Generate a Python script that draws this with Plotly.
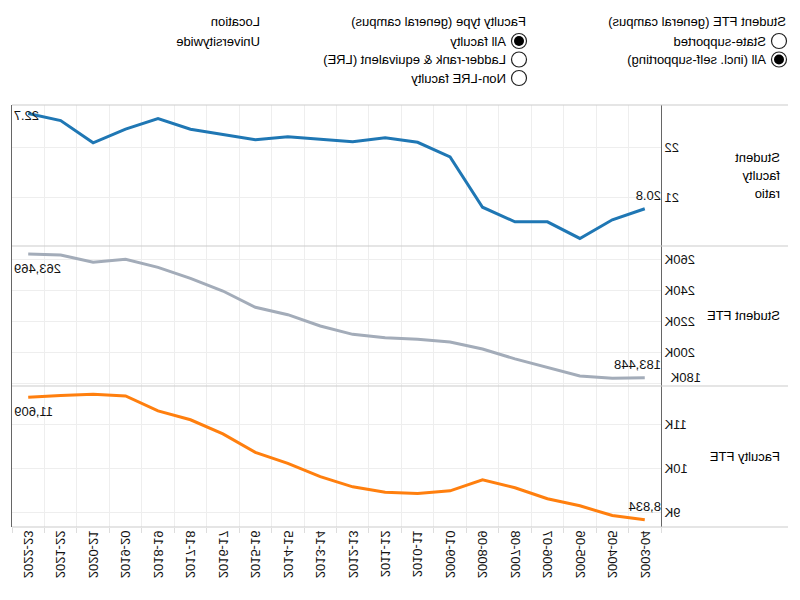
import plotly.graph_objects as go
from plotly.subplots import make_subplots

# ---------------- data ----------------
years = ["2003-04", "2004-05", "2005-06", "2006-07", "2007-08", "2008-09", "2009-10",
         "2010-11", "2011-12", "2012-13", "2013-14", "2014-15", "2015-16", "2016-17",
         "2017-18", "2018-19", "2019-20", "2020-21", "2021-22", "2022-23"]
student_faculty_ratio = [20.78, 20.56, 20.19, 20.52, 20.52, 20.81, 21.81, 22.10, 22.19, 22.11,
                         22.16, 22.21, 22.15, 22.26, 22.36, 22.57, 22.36, 22.09, 22.53, 22.67]
student_fte = [183448, 183100, 184600, 190200, 195600, 202000, 206600, 208300, 209300, 211500,
               216900, 224200, 229000, 239500, 247700, 254800, 260000, 258100, 262800, 263469]
faculty_fte = [8834, 8930, 9150, 9310, 9560, 9740, 9490, 9430, 9460, 9580,
               9810, 10110, 10360, 10780, 11100, 11300, 11640, 11680, 11650, 11609]

ratio_tickvals = [21, 22]
ratio_ticktext = ["21", "22"]
student_tickvals = [180000, 200000, 220000, 240000, 260000]
student_ticktext = ["180K", "200K", "220K", "240K", "260K"]
faculty_tickvals = [9000, 10000, 11000]
faculty_ticktext = ["9K", "10K", "11K"]

panel_titles = [["Student", "faculty", "ratio"], ["Student FTE"], ["Faculty FTE"]]

student_ctrl_title = "Student FTE (general campus)"
student_ctrl_options = ["State-supported", "All (incl. self-supporting)"]
student_ctrl_selected = 1
faculty_ctrl_title = "Faculty type (general campus)"
faculty_ctrl_options = ["All faculty", "Ladder-rank & equivalent (LRE)", "Non-LRE faculty"]
faculty_ctrl_selected = 0
location_title = "Location"
location_value = "Universitywide"

# ---------------- layout helpers ----------------
W, H = 800, 600
def px(x):
    return x / W
def py(y):
    return 1 - y / H

FONT = "Liberation Sans, Arial, sans-serif"
TXT = dict(family=FONT, size=13, color="#111111")
series = [
    (student_faculty_ratio, "#1f77b4", lambda v: f"{v:.1f}"),
    (student_fte, "#a3acb9", lambda v: f"{v:,.0f}"),
    (faculty_fte, "#ff7f0e", lambda v: f"{v:,.0f}"),
]
ranges = [[20.04, 22.84], [178100, 268600], [8670, 11865]]
ticks = [(ratio_tickvals, ratio_ticktext), (student_tickvals, student_ticktext),
         (faculty_tickvals, faculty_ticktext)]
panel_px = [(105, 246), (246, 386), (386, 527)]

fig = make_subplots(rows=3, cols=1, shared_xaxes=True, vertical_spacing=0)

annotations = []
shapes = []
for i, (vals, color, fmt) in enumerate(series):
    row = i + 1
    xr = "x" if row == 1 else f"x{row}"
    yr = "y" if row == 1 else f"y{row}"
    fig.add_trace(go.Scatter(x=years, y=vals, mode="lines",
                             line=dict(color=color, width=3), showlegend=False,
                             hoverinfo="skip"), row=row, col=1)
    top, bot = panel_px[i]
    tv, tt = ticks[i]
    tt_axis = list(tt)
    # a label sitting on the very bottom edge is flushed upward (drawn separately)
    if (tv[0] - ranges[i][0]) / (ranges[i][1] - ranges[i][0]) < 0.05:
        tt_axis[0] = ""
        annotations.append(dict(x=px(132), y=tv[0], xref="paper", yref=yr, text=tt[0],
                                xanchor="right", yanchor="middle", yshift=6,
                                showarrow=False, font=TXT))
    fig.update_yaxes(row=row, col=1, domain=[py(bot), py(top)], range=ranges[i],
                     tickvals=tv, ticktext=tt_axis, automargin=False,
                     showgrid=True, gridcolor="#eeeeee", gridwidth=1,
                     zeroline=False, showline=True, linecolor="#666666", linewidth=1,
                     mirror=True, ticks="", ticklen=0, tickfont=TXT)
    fig.update_xaxes(row=row, col=1, domain=[px(139), px(788)], range=[-0.5, 19.5],
                     type="category", tickson="boundaries", showgrid=True, automargin=False,
                     gridcolor="#eeeeee", gridwidth=1, showline=False, zeroline=False)
    # start label (first year)
    annotations.append(dict(x=-0.5, y=vals[0], xref=xr, yref=yr, text=fmt(vals[0]),
                            xanchor="left", yanchor="bottom", yshift=4, xshift=-2,
                            showarrow=False, font=TXT))
    # end label (last year)
    if i == 0:
        ya, ys = "middle", -2
    else:
        ya, ys = "top", -5
    annotations.append(dict(x=19.5, y=vals[-1], xref=xr, yref=yr, text=fmt(vals[-1]),
                            xanchor="right", yanchor=ya, yshift=ys,
                            showarrow=False, font=TXT))
    # panel title (one annotation per line, 18.5 px line spacing)
    lines = panel_titles[i]
    mid = (top + bot) / 2
    for k, ln in enumerate(lines):
        ypix = mid + (k - (len(lines) - 1) / 2) * 18.5
        annotations.append(dict(x=px(18), y=py(ypix), xref="paper", yref="paper",
                                text=ln, xanchor="left", yanchor="middle",
                                showarrow=False,
                                font=dict(family=FONT, size=13, color="#000000")))

fig.update_xaxes(row=3, col=1, ticks="outside", ticklen=5, tickcolor="#dddddd",
                 tickangle=-90, tickfont=TXT)

# full-width panel separators
for yline in [105, 246, 386, 527]:
    shapes.append(dict(type="line", xref="paper", yref="paper", x0=px(12), x1=px(788),
                       y0=py(yline), y1=py(yline), line=dict(color="#cccccc", width=1.2)))

# ---------------- controls ----------------
def radio_group(x_left, title, options, selected):
    annotations.append(dict(x=px(x_left), y=py(22), xref="paper", yref="paper", text=title,
                            xanchor="left", yanchor="middle", showarrow=False,
                            font=dict(family=FONT, size=13, color="#000000")))
    for k, opt in enumerate(options):
        cy = 41 + k * 18.5
        cx = x_left + 9
        shapes.append(dict(type="circle", xref="paper", yref="paper",
                           xsizemode="pixel", ysizemode="pixel",
                           xanchor=px(cx), yanchor=py(cy), x0=-7.5, x1=7.5, y0=-7.5, y1=7.5,
                           line=dict(color="#222222", width=1.2), fillcolor="white"))
        if k == selected:
            shapes.append(dict(type="circle", xref="paper", yref="paper",
                               xsizemode="pixel", ysizemode="pixel",
                               xanchor=px(cx), yanchor=py(cy), x0=-5, x1=5, y0=-5, y1=5,
                               line=dict(color="#000000", width=0), fillcolor="#000000"))
        annotations.append(dict(x=px(cx + 11), y=py(cy), xref="paper", yref="paper", text=opt,
                                xanchor="left", yanchor="middle", showarrow=False,
                                font=dict(family=FONT, size=13, color="#000000")))

radio_group(12, student_ctrl_title, student_ctrl_options, student_ctrl_selected)
radio_group(272, faculty_ctrl_title, faculty_ctrl_options, faculty_ctrl_selected)
annotations.append(dict(x=px(538), y=py(22), xref="paper", yref="paper", text=location_title,
                        xanchor="left", yanchor="middle", showarrow=False,
                        font=dict(family=FONT, size=13, color="#000000")))
annotations.append(dict(x=px(538), y=py(41), xref="paper", yref="paper", text=location_value,
                        xanchor="left", yanchor="middle", showarrow=False,
                        font=dict(family=FONT, size=13, color="#000000")))

fig.update_layout(width=W, height=H, margin=dict(l=0, r=0, t=0, b=0, autoexpand=False),
                  paper_bgcolor="white", plot_bgcolor="white",
                  annotations=annotations, shapes=shapes, showlegend=False,
                  font=dict(family=FONT, size=13))

# The reference picture is horizontally mirrored; mirror the rendered chart the same way.
post = ("document.body.style.margin='0';"
        "var gd=document.getElementById('{plot_id}');"
        "gd.style.transform='scaleX(-1)';gd.style.transformOrigin='400px 300px';")
fig.write_html("out.html", post_script=post)
